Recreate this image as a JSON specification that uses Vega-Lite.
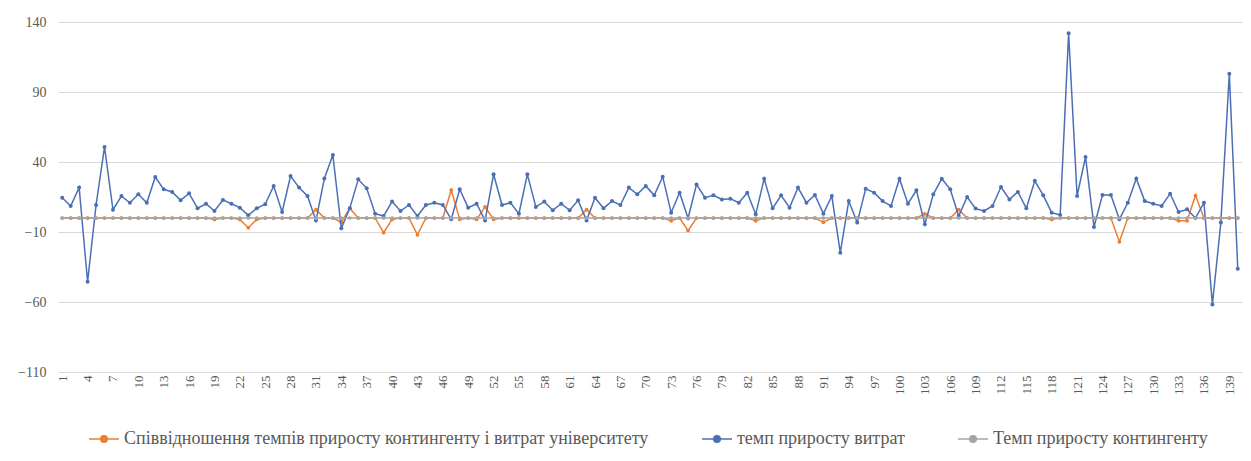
{
  "$schema": "https://vega.github.io/schema/vega-lite/v6.json",
  "width": 1184,
  "height": 350,
  "autosize": {"type": "none"},
  "padding": {"left": 58, "top": 22, "right": 9, "bottom": 89},
  "background": "white",
  "config": {
    "view": {"stroke": null},
    "font": "Liberation Serif"
  },
  "data": {
    "values": [
      {"n":1,"r":0,"e":14.5,"k":0},{"n":2,"r":0,"e":8.6,"k":0},{"n":3,"r":0,"e":21.7,"k":0},{"n":4,"r":0,"e":-45.5,"k":0},{"n":5,"r":0,"e":9.3,"k":0},
      {"n":6,"r":0,"e":50.7,"k":0},{"n":7,"r":0,"e":5.9,"k":0},{"n":8,"r":0,"e":15.7,"k":0},{"n":9,"r":0,"e":10.9,"k":0},{"n":10,"r":0,"e":16.9,"k":0},
      {"n":11,"r":0,"e":10.9,"k":0},{"n":12,"r":0,"e":29.3,"k":0},{"n":13,"r":0,"e":20.5,"k":0},{"n":14,"r":0,"e":18.6,"k":0},{"n":15,"r":0,"e":12.6,"k":0},
      {"n":16,"r":0,"e":17.6,"k":0},{"n":17,"r":0,"e":6.9,"k":0},{"n":18,"r":0,"e":10.2,"k":0},{"n":19,"r":-1,"e":5,"k":0},{"n":20,"r":0,"e":12.9,"k":0},
      {"n":21,"r":0,"e":10.2,"k":0},{"n":22,"r":-1,"e":7.4,"k":0},{"n":23,"r":-7,"e":1.9,"k":0},{"n":24,"r":-1,"e":6.9,"k":0},{"n":25,"r":0,"e":9.8,"k":0},
      {"n":26,"r":0,"e":22.9,"k":0},{"n":27,"r":0,"e":4.3,"k":0},{"n":28,"r":0,"e":30,"k":0},{"n":29,"r":0,"e":21.7,"k":0},{"n":30,"r":0,"e":15.7,"k":0},
      {"n":31,"r":6,"e":-1.7,"k":0},{"n":32,"r":0,"e":28.3,"k":0},{"n":33,"r":0,"e":45,"k":0},{"n":34,"r":-3,"e":-7.4,"k":0},{"n":35,"r":7,"e":6.9,"k":0},
      {"n":36,"r":0,"e":27.6,"k":0},{"n":37,"r":0,"e":21.2,"k":0},{"n":38,"r":0,"e":3.1,"k":0},{"n":39,"r":-10.5,"e":1.4,"k":0},{"n":40,"r":-1,"e":11.7,"k":0},
      {"n":41,"r":0,"e":5,"k":0},{"n":42,"r":0,"e":9.3,"k":0},{"n":43,"r":-12,"e":1.4,"k":0},{"n":44,"r":0,"e":9.3,"k":0},{"n":45,"r":0,"e":10.9,"k":0},
      {"n":46,"r":0,"e":9.3,"k":0},{"n":47,"r":20,"e":-0.9,"k":0},{"n":48,"r":-1,"e":20.5,"k":0},{"n":49,"r":0,"e":7.4,"k":0},{"n":50,"r":-1,"e":10.2,"k":0},
      {"n":51,"r":8,"e":-1.7,"k":0},{"n":52,"r":-1,"e":31.2,"k":0},{"n":53,"r":0,"e":9.3,"k":0},{"n":54,"r":0,"e":10.9,"k":0},{"n":55,"r":0,"e":3.1,"k":0},
      {"n":56,"r":0,"e":31.2,"k":0},{"n":57,"r":0,"e":7.9,"k":0},{"n":58,"r":0,"e":11.7,"k":0},{"n":59,"r":0,"e":5.5,"k":0},{"n":60,"r":0,"e":10.2,"k":0},
      {"n":61,"r":0,"e":5.5,"k":0},{"n":62,"r":0,"e":12.6,"k":0},{"n":63,"r":6,"e":-1.7,"k":0},{"n":64,"r":0,"e":14.5,"k":0},{"n":65,"r":0,"e":6.9,"k":0},
      {"n":66,"r":0,"e":12.1,"k":0},{"n":67,"r":0,"e":9.3,"k":0},{"n":68,"r":0,"e":21.7,"k":0},{"n":69,"r":0,"e":16.9,"k":0},{"n":70,"r":0,"e":22.9,"k":0},
      {"n":71,"r":0,"e":16.2,"k":0},{"n":72,"r":0,"e":29.5,"k":0},{"n":73,"r":-2,"e":3.8,"k":0},{"n":74,"r":0,"e":18.1,"k":0},{"n":75,"r":-9,"e":-0.2,"k":0},
      {"n":76,"r":0,"e":24,"k":0},{"n":77,"r":0,"e":14.5,"k":0},{"n":78,"r":0,"e":16.2,"k":0},{"n":79,"r":0,"e":13.3,"k":0},{"n":80,"r":0,"e":13.8,"k":0},
      {"n":81,"r":0,"e":10.9,"k":0},{"n":82,"r":0,"e":18.1,"k":0},{"n":83,"r":-2,"e":2.6,"k":0},{"n":84,"r":0,"e":28.1,"k":0},{"n":85,"r":0,"e":6.9,"k":0},
      {"n":86,"r":0,"e":16.2,"k":0},{"n":87,"r":0,"e":7.4,"k":0},{"n":88,"r":0,"e":21.7,"k":0},{"n":89,"r":0,"e":10.9,"k":0},{"n":90,"r":0,"e":16.4,"k":0},
      {"n":91,"r":-3,"e":3.1,"k":0},{"n":92,"r":0,"e":15.7,"k":0},{"n":93,"r":0,"e":-24.8,"k":0},{"n":94,"r":0,"e":12.1,"k":0},{"n":95,"r":0,"e":-3.3,"k":0},
      {"n":96,"r":0,"e":20.9,"k":0},{"n":97,"r":0,"e":18.1,"k":0},{"n":98,"r":0,"e":12.1,"k":0},{"n":99,"r":0,"e":8.6,"k":0},{"n":100,"r":0,"e":28.1,"k":0},
      {"n":101,"r":0,"e":10.2,"k":0},{"n":102,"r":0,"e":19.8,"k":0},{"n":103,"r":3,"e":-4.5,"k":0},{"n":104,"r":0,"e":16.9,"k":0},{"n":105,"r":0,"e":28.1,"k":0},
      {"n":106,"r":0,"e":20.5,"k":0},{"n":107,"r":6,"e":1.4,"k":0},{"n":108,"r":0,"e":15,"k":0},{"n":109,"r":0,"e":6.7,"k":0},{"n":110,"r":0,"e":5,"k":0},
      {"n":111,"r":0,"e":8.6,"k":0},{"n":112,"r":0,"e":22.1,"k":0},{"n":113,"r":0,"e":13.3,"k":0},{"n":114,"r":0,"e":18.6,"k":0},{"n":115,"r":0,"e":6.9,"k":0},
      {"n":116,"r":0,"e":26.6,"k":0},{"n":117,"r":0,"e":16.2,"k":0},{"n":118,"r":-1,"e":3.8,"k":0},{"n":119,"r":0,"e":2.1,"k":0},{"n":120,"r":0,"e":132,"k":0},
      {"n":121,"r":0,"e":15.7,"k":0},{"n":122,"r":0,"e":43.6,"k":0},{"n":123,"r":0,"e":-6.4,"k":0},{"n":124,"r":0,"e":16.4,"k":0},{"n":125,"r":0,"e":16.4,"k":0},
      {"n":126,"r":-17,"e":-0.9,"k":0},{"n":127,"r":0,"e":10.9,"k":0},{"n":128,"r":0,"e":28.3,"k":0},{"n":129,"r":0,"e":12.1,"k":0},{"n":130,"r":0,"e":10.2,"k":0},
      {"n":131,"r":0,"e":8.6,"k":0},{"n":132,"r":0,"e":17.4,"k":0},{"n":133,"r":-2,"e":4.3,"k":0},{"n":134,"r":-2,"e":6.2,"k":0},{"n":135,"r":16,"e":0,"k":0},
      {"n":136,"r":0,"e":10.9,"k":0},{"n":137,"r":0,"e":-61.7,"k":0},{"n":138,"r":0,"e":-3.3,"k":0},{"n":139,"r":0,"e":103,"k":0},{"n":140,"r":0,"e":-36.2,"k":0}
    ]
  },
  "encoding": {
    "x": {
      "field": "n",
      "type": "ordinal",
      "sort": "ascending",
      "scale": {"type": "point", "padding": 0.5},
      "axis": {
        "title": null,
        "labelAngle": -90,
        "labelExpr": "(datum.value - 1) % 3 === 0 ? datum.label : ''",
        "labelFont": "Liberation Serif",
        "labelFontSize": 13,
        "labelColor": "#595959",
        "labelPadding": 3,
        "ticks": false,
        "domain": false,
        "grid": false,
        "labelOverlap": false
      }
    }
  },
  "layer": [
    {
      "mark": {"type": "line", "strokeWidth": 1.5, "point": {"filled": true, "size": 14}},
      "encoding": {
        "y": {"field": "r", "type": "quantitative"},
        "color": {
          "datum": "Співвідношення темпів приросту контингенту і витрат університету",
          "scale": {
            "domain": ["Співвідношення темпів приросту контингенту і витрат університету", "темп приросту витрат", "Темп приросту контингенту"],
            "range": ["#ED7D31", "#4A6FB5", "#A5A5A5"]
          },
          "legend": {
            "title": null,
            "orient": "none",
            "direction": "horizontal",
            "legendX": 30,
            "legendY": 401,
            "columnPadding": 50,
            "labelFont": "Liberation Serif",
            "labelFontSize": 18,
            "labelColor": "#595959",
            "labelLimit": 0,
            "symbolType": "M-1,0H1M0.22,0A0.22,0.22,0,1,1,-0.22,0A0.22,0.22,0,1,1,0.22,0",
            "symbolSize": 900,
            "symbolStrokeWidth": 1.5,
            "labelOffset": 4,
            "encode": {
              "symbols": {"update": {"fill": {"scale": "color", "field": "value"}, "stroke": {"scale": "color", "field": "value"}}}
            }
          }
        }
      }
    },
    {
      "mark": {"type": "line", "strokeWidth": 1.5, "point": {"filled": true, "size": 16, "color": "#2F4C8A"}},
      "encoding": {
        "y": {"field": "e", "type": "quantitative"},
        "color": {"datum": "темп приросту витрат"}
      }
    },
    {
      "mark": {"type": "line", "strokeWidth": 1.5, "point": {"filled": true, "size": 14}},
      "encoding": {
        "y": {
          "field": "k",
          "type": "quantitative",
          "scale": {"domain": [-110, 140], "nice": false, "zero": false},
          "axis": {
            "title": null,
            "values": [-110, -60, -10, 40, 90, 140],
            "grid": true,
            "gridColor": "#D9D9D9",
            "domain": false,
            "ticks": false,
            "labelFont": "Liberation Serif",
            "labelFontSize": 14,
            "labelColor": "#595959",
            "labelPadding": 12
          }
        },
        "color": {"datum": "Темп приросту контингенту"}
      }
    }
  ],
  "resolve": {"scale": {"y": "shared"}}
}
